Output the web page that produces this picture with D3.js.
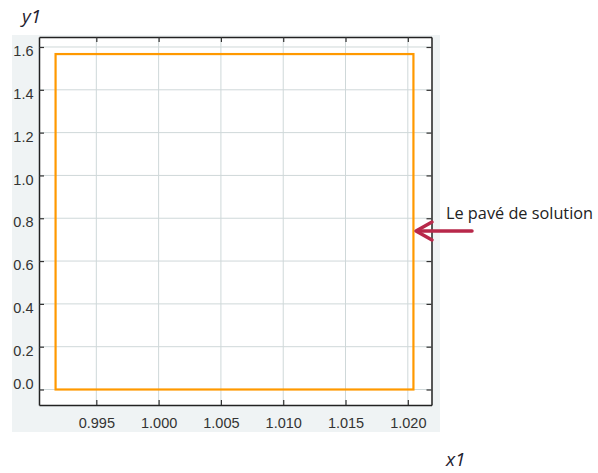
<!DOCTYPE html>
<html><head><meta charset="utf-8">
<script src="https://cdn.jsdelivr.net/npm/d3@7"></script>
<style>body{margin:0;background:#fff}svg{display:block}</style>
</head><body><svg id="c" width="598" height="473"></svg>
<script>
const xTicks = [0.995, 1.000, 1.005, 1.010, 1.015, 1.020];
const yTicks = [0.0, 0.2, 0.4, 0.6, 0.8, 1.0, 1.2, 1.4, 1.6];
const xDomain = [0.9904, 1.0219];
const yDomain = [-0.0724, 1.6467];
const boxX = [0.99173, 1.02045];
const boxY = [0.0, 1.567];
const annotation = "Le pavé de solution";

const svg = d3.select("#c");
const L = 39, R = 431.5, T = 37, B = 405;
svg.append("rect").attr("x", 12).attr("y", 35).attr("width", 428).attr("height", 397).attr("fill", "#eff3f4");
svg.append("rect").attr("x", L).attr("y", T).attr("width", R - L).attr("height", B - T).attr("fill", "#fff");

const x = d3.scaleLinear().domain(xDomain).range([L, R]);
const y = d3.scaleLinear().domain(yDomain).range([B, T]);

const g = svg.append("g");
g.selectAll(".gx").data(xTicks).join("line")
  .attr("x1", d => x(d)).attr("x2", d => x(d)).attr("y1", T).attr("y2", B)
  .attr("stroke", "#cfd8d9").attr("stroke-width", 1);
g.selectAll(".gy").data(yTicks).join("line")
  .attr("y1", d => y(d)).attr("y2", d => y(d)).attr("x1", L).attr("x2", R)
  .attr("stroke", "#cfd8d9").attr("stroke-width", 1);

// data box
svg.append("rect")
  .attr("x", x(boxX[0])).attr("y", y(boxY[1]))
  .attr("width", x(boxX[1]) - x(boxX[0])).attr("height", y(boxY[0]) - y(boxY[1]))
  .attr("fill", "none").attr("stroke", "#ff9900").attr("stroke-width", 2.2);

// axes
const fmtX = d3.format(".3f"), fmtY = d3.format(".1f");
const axB = svg.append("g").attr("transform", `translate(0,${B})`)
  .call(d3.axisBottom(x).tickValues(xTicks).tickFormat(fmtX).tickSizeInner(-5).tickSizeOuter(0).tickPadding(12.5));
const axT = svg.append("g").attr("transform", `translate(0,${T})`)
  .call(d3.axisTop(x).tickValues(xTicks).tickFormat("").tickSizeInner(-5).tickSizeOuter(0));
const axL = svg.append("g").attr("transform", `translate(${L},0)`)
  .call(d3.axisLeft(y).tickValues(yTicks).tickFormat(fmtY).tickSizeInner(-5).tickSizeOuter(0).tickPadding(5.5));
const axR = svg.append("g").attr("transform", `translate(${R},0)`)
  .call(d3.axisRight(y).tickValues(yTicks).tickFormat("").tickSizeInner(-5).tickSizeOuter(0));
[axB, axT, axL, axR].forEach(a => {
  a.select(".domain").attr("stroke", "#222").attr("stroke-width", 1.5);
  a.selectAll(".tick line").attr("stroke", "#333").attr("stroke-width", 1.2);
  a.selectAll("text").attr("fill", "#333").attr("font-family", "'Liberation Sans', Arial, sans-serif").attr("font-size", 14.5);
});
axL.selectAll(".tick text").attr("dy", d => d === 0 ? "-0.06em" : "0.6em");

// axis titles
svg.append("text").attr("x", 22).attr("y", 23).text("y1")
  .attr("font-family", "'Open Sans', 'DejaVu Sans', sans-serif").attr("font-style", "italic")
  .attr("font-size", 19).attr("fill", "#1f2230");
svg.append("text").attr("x", 446).attr("y", 466).text("x1")
  .attr("font-family", "'Open Sans', 'DejaVu Sans', sans-serif").attr("font-style", "italic")
  .attr("font-size", 19).attr("fill", "#1f2230");

// annotation
svg.append("text").attr("x", 446).attr("y", 219).text(annotation)
  .attr("font-family", "'Open Sans', 'Liberation Sans', sans-serif").attr("font-size", 16.3).attr("fill", "#222");
const ac = "#b8284a";
svg.append("line").attr("x1", 472).attr("y1", 231).attr("x2", 420).attr("y2", 231)
  .attr("stroke", ac).attr("stroke-width", 3.5).attr("stroke-linecap", "round");
svg.append("path").attr("d", "M416,231 L432,222 M416,231 L432,240")
  .attr("stroke", ac).attr("stroke-width", 3.5).attr("fill", "none").attr("stroke-linecap", "round").attr("stroke-linejoin", "round");
</script></body></html>
